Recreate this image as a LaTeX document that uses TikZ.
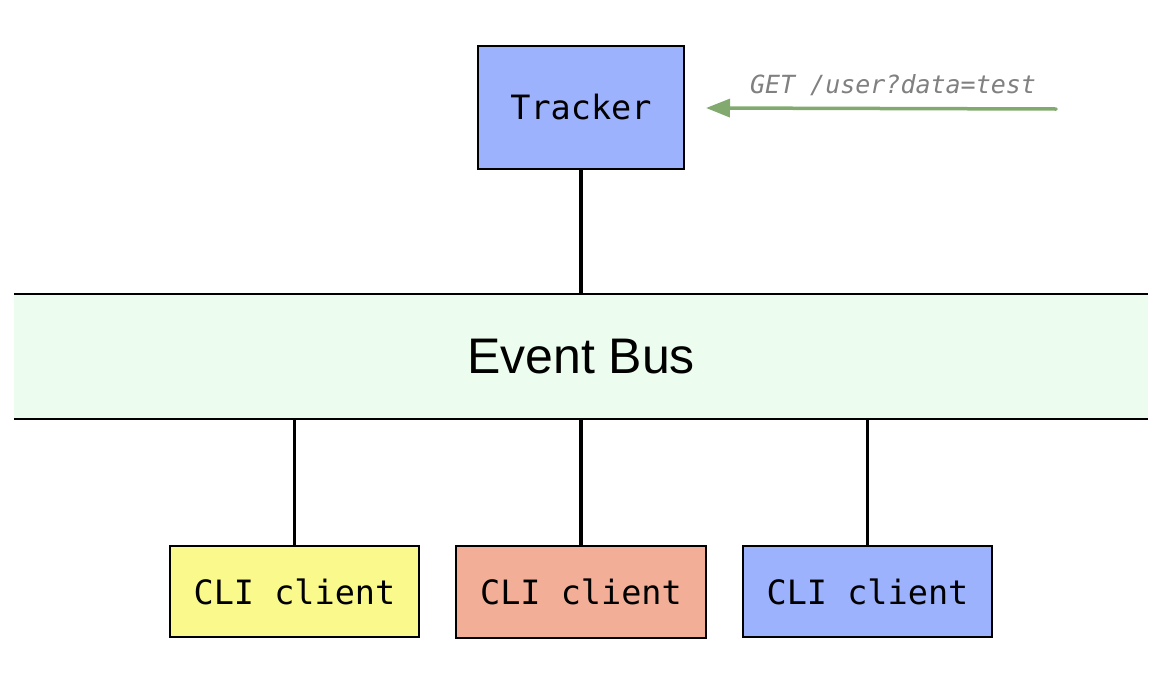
\documentclass[tikz,border=0pt]{standalone}
\usepackage{fontspec}
\setmainfont{Liberation Sans}
\newfontfamily\monofnt{DejaVu Sans Mono}
\usetikzlibrary{arrows.meta}
\definecolor{trackblue}{RGB}{157,178,252}
\definecolor{cliyellow}{RGB}{250,250,140}
\definecolor{clisalmon}{RGB}{243,174,152}
\definecolor{busgreen}{RGB}{236,252,238}
\definecolor{arrowgreen}{RGB}{130,170,110}
\definecolor{labelgrey}{RGB}{128,128,128}
\begin{document}
\begin{tikzpicture}[x=1pt,y=-1pt,
  boxstyle/.style={draw=black, line width=2pt, inner sep=0pt, font=\monofnt\fontsize{33.5}{38}\selectfont},
  link/.style={draw=black, line width=3.5pt},
  busline/.style={draw=black, line width=1.6pt}]
\useasboundingbox (0,0) rectangle (1165,683);
\node[boxstyle, fill=trackblue, minimum width=206pt, minimum height=123pt] (tracker) at (581,107.5) {Tracker};
\node[fill=busgreen, inner sep=0pt, minimum width=1134pt, minimum height=125pt, font=\fontsize{50}{56}\selectfont] (bus) at (581,356.5) {Event Bus};
\draw[busline] (bus.north west) -- (bus.north east);
\draw[busline] (bus.south west) -- (bus.south east);
\node[boxstyle, fill=cliyellow, minimum width=249pt, minimum height=91pt] (c1) at (294.5,591.5) {CLI client};
\node[boxstyle, fill=clisalmon, minimum width=250pt, minimum height=92pt] (c2) at (581,592) {CLI client};
\node[boxstyle, fill=trackblue, minimum width=249pt, minimum height=91pt] (c3) at (867.5,591.5) {CLI client};
\draw[link] (tracker.south) -- (bus.north);
\draw[link] (c1.north) -- (c1.north |- bus.south);
\draw[link] (c2.north) -- (c2.north |- bus.south);
\draw[link] (c3.north) -- (c3.north |- bus.south);
\coordinate (gstart) at (1056,109);
\coordinate (gend) at (706,108);
\draw[draw=arrowgreen, line width=3.5pt, line cap=round, -{Triangle[length=24pt,width=18pt]}] (gstart) -- (gend);
\node[text=labelgrey, font=\monofnt\itshape\fontsize{25}{29}\selectfont, inner sep=0pt] (lbl) at (893,85) {GET /user?data=test};
\end{tikzpicture}
\end{document}
